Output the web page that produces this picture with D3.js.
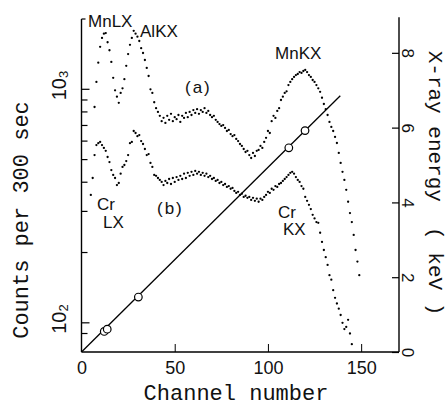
<!DOCTYPE html>
<html>
<head>
<meta charset="utf-8">
<script src="https://cdn.jsdelivr.net/npm/d3@7"></script>
<style>
  body { margin: 0; background: #fff; }
  text { fill: #111; }
</style>
</head>
<body>
<script>
// spectrum (a): one dot per channel, first channel 7
const startA = 7;
const countsA = [
  840, 1075, 1300, 1520, 1660, 1730, 1740, 1590, 1470, 1310,
  1120, 990, 930, 875, 965, 1010, 1105, 1260, 1415, 1550,
  1660, 1780, 1730, 1680, 1610, 1500, 1430, 1335, 1235, 1140,
  1000, 965, 880, 830, 800, 770, 730, 755, 718, 770,
  740, 785, 730, 760, 745, 776, 725, 770, 754, 792,
  760, 800, 776, 815, 792, 822, 785, 815, 800, 830,
  792, 808, 776, 760, 770, 740, 725, 710, 697, 703,
  683, 663, 670, 643, 630, 637, 613, 600, 583, 572,
  555, 539, 545, 523, 508, 534, 518, 545, 550, 572,
  561, 595, 620, 663, 650, 730, 770, 754, 808, 830,
  900, 930, 965, 980, 1043, 1075, 1105, 1130, 1151, 1163,
  1185, 1175, 1198, 1210, 1185, 1151, 1130, 1096, 1075, 1043,
  1010, 975, 920, 865, 822, 776, 725, 690, 663, 625,
  589, 534, 484, 443, 409, 371, 330, 295, 270, 238,
  205, 183, 160
];

// spectrum (b): first channel 5
const startB = 5;
const countsB = [
  353, 417, 523, 577, 588, 595, 577, 561, 545, 513,
  488, 451, 430, 417, 389, 397, 435, 465, 474, 493,
  523, 588, 595, 663, 650, 630, 637, 600, 583, 555,
  523, 528, 484, 465, 430, 426, 417, 409, 401, 389,
  405, 397, 413, 393, 417, 401, 421, 409, 426, 413,
  435, 417, 439, 426, 443, 430, 447, 435, 443, 430,
  439, 426, 435, 421, 426, 413, 417, 405, 409, 397,
  401, 389, 393, 382, 385, 375, 378, 367, 360, 364,
  353, 357, 346, 350, 343, 346, 336, 343, 333, 340,
  330, 340, 336, 346, 353, 364, 360, 375, 371, 385,
  382, 393, 397, 405, 413, 421, 430, 439, 443, 435,
  421, 409, 401, 385, 375, 346, 333, 320, 307, 290,
  280, 270, 268, 243, 222, 205, 191, 177, 160, 153,
  138, 128, 121, 115, 108, 100, 94, 96, 103, 90,
  81
];

// energy calibration (right axis)
const calibChannel = [12.2, 13.8, 30.5, 111.2, 119.9];
const calibEnergy = [0.55, 0.61, 1.47, 5.46, 5.92];
const fitChannel = [0, 138.8];
const fitEnergy = [0, 6.85];

const xTicks = [0, 50, 100, 150];
const energyTicks = [0, 2, 4, 6, 8];
const countMajor = [100, 1000];
const countMinor = [90, 200, 300, 400, 500, 600, 700, 800, 900, 2000];

const labels = [
  {t: "MnLX", ch: 3.5, c: 1840},
  {t: "AlKX", ch: 31.4, c: 1675},
  {t: "(a)", ch: 55.5, c: 964},
  {t: "MnKX", ch: 103.8, c: 1349},
  {t: "Cr", ch: 8.3, c: 304},
  {t: "LX", ch: 11.5, c: 255},
  {t: "(b)", ch: 40.5, c: 292},
  {t: "Cr", ch: 105.4, c: 281},
  {t: "KX", ch: 108.1, c: 238}
];

const w = 446;
const h = 406;

const x = d3.scaleLinear().domain([0, 170.3]).range([81.5, 399]);
const y = d3.scaleLog().domain([75, 2000]).range([352, 19]);
const yE = d3.scaleLinear().domain([0, 8.95]).range([352, 17.3]);

const svg = d3.select("body").append("svg")
  .attr("width", w)
  .attr("height", h);

const sans = "'Liberation Sans', Arial, sans-serif";
const mono = "'Liberation Mono', 'DejaVu Sans Mono', monospace";

// axes
const xAxis = d3.axisBottom(x).tickValues(xTicks).tickSize(-8).tickFormat(d3.format("d")).tickPadding(9);
const gx = svg.append("g").attr("transform", "translate(0,352)").call(xAxis);
gx.select(".domain").attr("d", "M81.5,0H399").attr("stroke-width", 1.4);
gx.selectAll(".tick").filter(d => d === 0).select("line").remove();
gx.selectAll("text").attr("font-family", sans).attr("font-size", 18).attr("dy", "0.72em");

const gy = svg.append("g").attr("transform", "translate(81.5,0)");
gy.append("line").attr("y1", 19).attr("y2", 352).attr("stroke", "#000").attr("stroke-width", 1.4);
gy.selectAll(".maj").data(countMajor).enter().append("line")
  .attr("x1", 0).attr("x2", 8).attr("y1", d => y(d)).attr("y2", d => y(d))
  .attr("stroke", "#000").attr("stroke-width", 1.2);
gy.selectAll(".min").data(countMinor).enter().append("line")
  .attr("x1", 0).attr("x2", d => d === 2000 ? 4 : 6).attr("y1", d => y(d)).attr("y2", d => y(d))
  .attr("stroke", "#000").attr("stroke-width", 1.2);

// 10^n labels, rotated like the scan
gy.selectAll(".lab").data(countMajor).enter().append("text")
  .attr("transform", d => "translate(-16," + (y(d) + 11) + ") rotate(-90)")
  .attr("font-family", sans).attr("font-size", 20)
  .each(function(d) {
    const t = d3.select(this);
    t.append("tspan").text("10");
    t.append("tspan").attr("font-size", 13).attr("dy", 2).text(String(Math.round(Math.log10(d))));
  });

const yEAxis = d3.axisRight(yE).tickValues(energyTicks).tickSize(0).tickFormat(d3.format("d"));
const ge = svg.append("g").attr("transform", "translate(399,0)").call(yEAxis);
ge.select(".domain").attr("d", "M0,17.3V352").attr("stroke-width", 1.4);
ge.selectAll(".tick line").attr("x2", -7).attr("stroke-width", 1.2);
ge.selectAll(".tick text")
  .attr("x", null).attr("dy", null)
  .attr("transform", "translate(3,0) rotate(90)")
  .attr("text-anchor", "middle")
  .attr("font-family", sans).attr("font-size", 17);

// axis titles
svg.append("text").attr("x", 236).attr("y", 400).attr("text-anchor", "middle")
  .attr("font-family", mono).attr("font-size", 22).text("Channel number");
svg.append("text").attr("transform", "translate(28,220) rotate(-90)").attr("text-anchor", "middle")
  .attr("font-family", mono).attr("font-size", 22).text("Counts per 300 sec");
svg.append("text").attr("transform", "translate(429,183) rotate(90)").attr("text-anchor", "middle")
  .attr("font-family", mono).attr("font-size", 21).attr("xml:space", "preserve").text("X-ray energy  ( keV )");

// calibration line and points
svg.append("line")
  .attr("x1", x(fitChannel[0])).attr("y1", yE(fitEnergy[0]))
  .attr("x2", x(fitChannel[1])).attr("y2", yE(fitEnergy[1]))
  .attr("stroke", "#000").attr("stroke-width", 1.3);

// spectra dots
svg.selectAll(".da").data(countsA).enter().append("circle")
  .attr("cx", (d, i) => x(startA + i)).attr("cy", d => y(d)).attr("r", 1.15).attr("fill", "#000");
svg.selectAll(".db").data(countsB).enter().append("circle")
  .attr("cx", (d, i) => x(startB + i)).attr("cy", d => y(d)).attr("r", 1.15).attr("fill", "#000");

svg.selectAll(".cal").data(calibChannel).enter().append("circle")
  .attr("cx", d => x(d)).attr("cy", (d, i) => yE(calibEnergy[i])).attr("r", 3.8)
  .attr("fill", "#fff").attr("stroke", "#000").attr("stroke-width", 1.2);

// peak labels
svg.selectAll(".pk").data(labels).enter().append("text")
  .attr("x", d => x(d.ch)).attr("y", d => y(d.c))
  .attr("font-family", sans).attr("font-size", 17)
  .attr("letter-spacing", d => d.t[0] === "(" ? 2 : 0)
  .text(d => d.t);
</script>
</body>
</html>
